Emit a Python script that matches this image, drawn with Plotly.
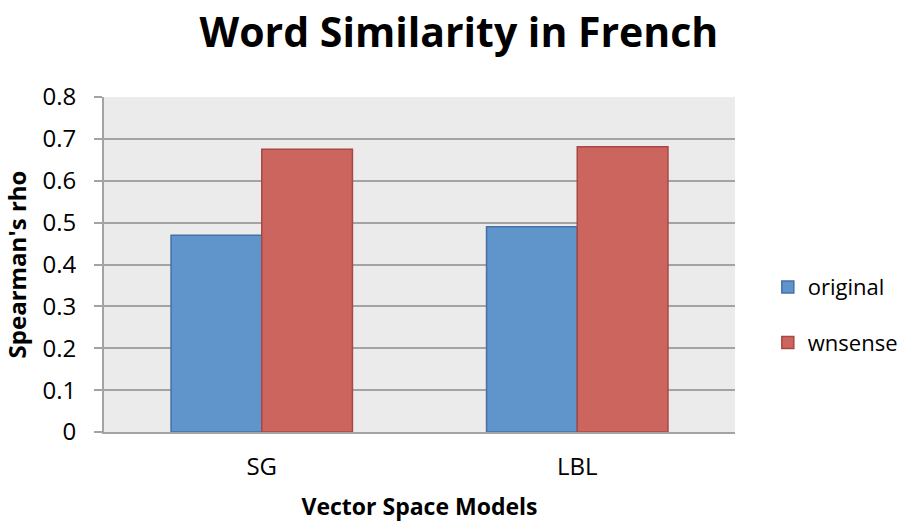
import plotly.graph_objects as go

categories = ["SG", "LBL"]
original = [0.470, 0.490]
wnsense = [0.675, 0.681]
series_names = ["original", "wnsense"]
y_ticks = [0, 0.1, 0.2, 0.3, 0.4, 0.5, 0.6, 0.7, 0.8]
y_tick_labels = ["0", "0.1", "0.2", "0.3", "0.4", "0.5", "0.6", "0.7", "0.8"]

FONT = "Open Sans"

fig = go.Figure()
fig.add_trace(go.Bar(x=categories, y=original, name=series_names[0], legendgroup="a",
                     marker=dict(color="#6095cb", line=dict(color="#4470a8", width=1.5))))
fig.add_trace(go.Bar(x=categories, y=wnsense, name=series_names[1], legendgroup="b",
                     marker=dict(color="#cd655f", line=dict(color="#a84844", width=1.5))))

fig.update_layout(
    width=915, height=522, autosize=False,
    paper_bgcolor="white", plot_bgcolor="#ebebeb",
    margin=dict(l=104, r=158, t=97, b=90),
    barmode="group", bargap=0.425, bargroupgap=0,
    font=dict(family=FONT, color="black", size=22),
    title=dict(text="<b>Word Similarity in French</b>", x=0.5016, xanchor="center",
               xref="container", y=0.937, yanchor="middle",
               font=dict(family=FONT, size=41, color="black")),
    legend=dict(x=1.052, xanchor="left", y=0.349, yanchor="middle",
                font=dict(size=22, family=FONT), tracegroupgap=24,
                bgcolor="rgba(0,0,0,0)"),
    showlegend=True,
)
fig.update_yaxes(range=[0, 0.8], tickvals=y_ticks, ticktext=y_tick_labels,
                 automargin=False, ticklabelstandoff=13,
                 showgrid=True, gridcolor="#a3a3a3", gridwidth=2,
                 showline=True, linecolor="#a3a3a3", linewidth=2,
                 ticks="outside", ticklen=8, tickcolor="#a3a3a3", tickwidth=2,
                 zeroline=False,
                 title=dict(text="<b>Spearman's rho</b>", font=dict(size=24, family=FONT), standoff=14),
                 tickfont=dict(size=24, family=FONT))
fig.update_xaxes(showline=True, linecolor="#a3a3a3", linewidth=2, ticks="",
                 automargin=False, ticklabelstandoff=12,
                 tickfont=dict(size=24, family=FONT),
                 title=dict(text="<b>Vector Space Models</b>", font=dict(size=23, family=FONT), standoff=25))

fig.write_html("out.html", config={"displayModeBar": False, "responsive": False},
               post_script="document.body.style.margin='0px';")
